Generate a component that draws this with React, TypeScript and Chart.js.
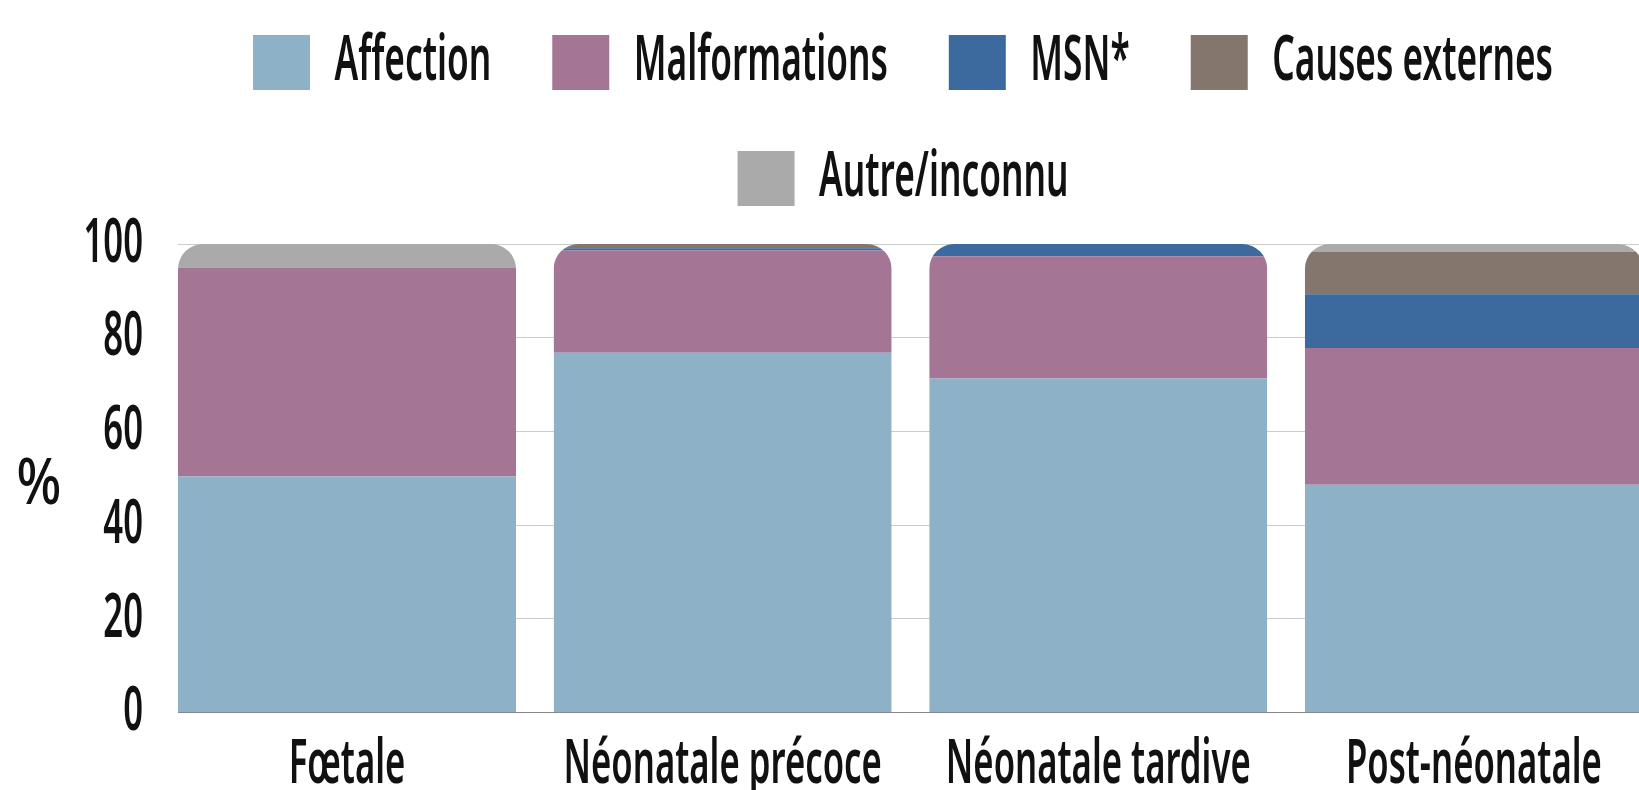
import React, { useEffect, useRef } from "react";
import { Chart, registerables } from "chart.js";

Chart.register(...registerables);

const categories = ["Fœtale", "Néonatale précoce", "Néonatale tardive", "Post-néonatale"];
const seriesNames = ["Affection", "Malformations", "MSN*", "Causes externes", "Autre/inconnu"];
const affection = [50.4, 76.8, 71.3, 48.6];
const malformations = [44.6, 21.8, 26.1, 29.2];
const msn = [0, 0.5, 2.6, 11.5];
const causesExternes = [0, 0.9, 0, 9.0];
const autreInconnu = [5.0, 0, 0, 1.7];
const yTicks = [0, 20, 40, 60, 80, 100];

const colors = ["#8db2c8", "#a57595", "#3c6a9e", "#84766c", "#aaaaaa"];

const FAMILY = "'Noto Sans', 'DejaVu Sans', sans-serif";
const WEIGHT = "600";
const FS = 62;
const LEGEND_FS = 49; // nominal size (sets box/text gap); glyphs enlarged below
const LEGEND_GLYPH_SCALE = 63 / 49;
const SX = 0.56;

const CANVAS_W = 1703;
const CANVAS_H = 845;
const CANVAS_TOP = -26;

function glyphScale(ctx: any) {
  return String(ctx.font).indexOf(`${LEGEND_FS}px`) >= 0 ? LEGEND_GLYPH_SCALE : 1;
}

function installCondensedText(ctx: any, sx: number) {
  const proto: any = CanvasRenderingContext2D.prototype;
  ctx.fillText = function (text: string, x: number, y: number, maxWidth?: number) {
    const k = glyphScale(this);
    this.save();
    this.translate(x, y);
    this.scale(sx * k, k);
    if (maxWidth === undefined || maxWidth === null) proto.fillText.call(this, text, 0, 0);
    else proto.fillText.call(this, text, 0, 0, maxWidth / (sx * k));
    this.restore();
  };
  ctx.measureText = function (text: string) {
    const k = glyphScale(this);
    const m = proto.measureText.call(this, text);
    return {
      width: m.width * sx * k,
      actualBoundingBoxLeft: m.actualBoundingBoxLeft * sx * k,
      actualBoundingBoxRight: m.actualBoundingBoxRight * sx * k,
      actualBoundingBoxAscent: m.actualBoundingBoxAscent * k,
      actualBoundingBoxDescent: m.actualBoundingBoxDescent * k,
      fontBoundingBoxAscent: m.fontBoundingBoxAscent * k,
      fontBoundingBoxDescent: m.fontBoundingBoxDescent * k,
    };
  };
}

const roundedStacks = {
  id: "roundedStacks",
  beforeDatasetsDraw(chart: any) {
    const ctx = chart.ctx;
    ctx.save();
    ctx.beginPath();
    const metas = chart.getSortedVisibleDatasetMetas();
    categories.forEach((_, i) => {
      let top = Infinity;
      let base = -Infinity;
      let x = 0;
      let w = 0;
      metas.forEach((m: any) => {
        const el = m.data[i];
        if (!el) return;
        const raw = chart.data.datasets[m.index].data[i].y;
        x = el.x;
        w = el.width;
        if (raw > 0) {
          top = Math.min(top, el.y);
          base = Math.max(base, el.base);
        }
      });
      if (top < Infinity) {
        ctx.roundRect(x - w / 2, top, w, base - top + 2, [25, 25, 0, 0]);
      }
    });
    ctx.clip();
  },
  afterDatasetsDraw(chart: any) {
    chart.ctx.restore();
  },
};

const percentLabel = {
  id: "percentLabel",
  afterDraw(chart: any) {
    const ctx = chart.ctx;
    const proto: any = CanvasRenderingContext2D.prototype;
    ctx.save();
    ctx.font = `500 ${FS}px ${FAMILY}`;
    ctx.fillStyle = "#111111";
    ctx.textAlign = "center";
    ctx.textBaseline = "middle";
    ctx.translate(39, 486 - CANVAS_TOP);
    ctx.scale(0.85, 1.03);
    proto.fillText.call(ctx, "%", 0, 0);
    ctx.restore();
  },
};

export default function App() {
  const ref = useRef<HTMLCanvasElement>(null);
  useEffect(() => {
    if (!ref.current) return;
    const ctx = ref.current.getContext("2d");
    installCondensedText(ctx, SX);
    const series = [affection, malformations, msn, causesExternes, autreInconnu];
    const tickFont = { family: FAMILY, size: FS, weight: WEIGHT as any };
    const chart = new Chart(ctx as any, {
      type: "bar",
      data: {
        datasets: series.map((vals, s) => ({
          label: seriesNames[s],
          data: vals.map((v, i) => ({ x: i, y: v })),
          backgroundColor: colors[s],
          borderWidth: 0,
          categoryPercentage: 0.9,
          barPercentage: 1.0,
        })),
      },
      options: {
        responsive: false,
        animation: false,
        devicePixelRatio: 1,
        layout: { padding: { left: 103, right: 0, top: 0, bottom: 0 } },
        plugins: {
          tooltip: { enabled: false },
          legend: {
            position: "top",
            labels: {
              boxWidth: 57,
              boxHeight: 55,
              padding: 61,
              color: "#111111",
              font: { family: FAMILY, size: LEGEND_FS, weight: WEIGHT as any },
            },
          },
          title: {
            display: true,
            text: "",
            position: "top",
            weight: 500,
            font: { size: 1, lineHeight: 1 },
            padding: { top: 0, bottom: 27 },
          } as any,
        },
        scales: {
          x: {
            type: "linear",
            stacked: true,
            min: -0.45,
            max: 3.61,
            offset: false,
            grid: { display: false, drawTicks: false },
            border: { display: true, color: "#888888", width: 1 },
            afterBuildTicks: (scale: any) => {
              scale.ticks = categories.map((_, i) => ({ value: i }));
            },
            ticks: {
              autoSkip: false,
              maxRotation: 0,
              padding: 16,
              color: "#111111",
              font: tickFont,
              callback: (v: any) => categories[v as number] ?? "",
            },
          },
          y: {
            stacked: true,
            min: 0,
            max: 100,
            afterBuildTicks: (scale: any) => {
              scale.ticks = yTicks.map((v) => ({ value: v }));
            },
            afterFit: (scale: any) => {
              scale.width = 75;
              scale._computeLabelArea = () => undefined;
            },
            grid: { color: "#cccccc", lineWidth: 1, drawTicks: false },
            border: { display: false },
            ticks: {
              padding: 35,
              color: "#111111",
              font: tickFont,
            },
          },
        },
      },
      plugins: [roundedStacks, percentLabel],
    });
    return () => chart.destroy();
  }, []);
  return (
    <div
      style={{
        position: "fixed",
        left: 0,
        top: 0,
        width: "100vw",
        height: "100vh",
        overflow: "hidden",
        background: "#ffffff",
      }}
    >
      <canvas
        ref={ref}
        width={CANVAS_W}
        height={CANVAS_H}
        style={{ position: "absolute", left: 0, top: CANVAS_TOP, width: CANVAS_W, height: CANVAS_H }}
      />
    </div>
  );
}
